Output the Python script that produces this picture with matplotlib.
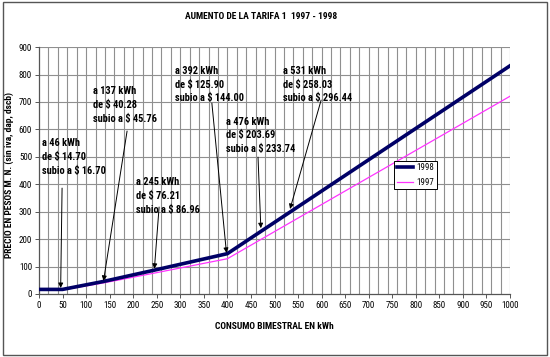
import matplotlib
matplotlib.use("Agg")
import matplotlib.pyplot as plt
from matplotlib.font_manager import fontManager, FontProperties
from matplotlib.patches import Rectangle

_files = {f.fname.split('/')[-1]: f.fname for f in fontManager.ttflist}


def pick(cands, default_weight):
    for c in cands:
        if c in _files:
            return FontProperties(fname=_files[c])
    return FontProperties(family=['Liberation Sans', 'DejaVu Sans'], weight=default_weight)


FB = pick(['LiberationSansNarrow-Bold.ttf', 'RobotoCondensed-Bold.ttf', 'ArialNarrowBold.ttf',
           'BarlowSemiCondensed-Bold.ttf', 'DejaVuSansCondensed-Bold.ttf'], 'bold')
FR = pick(['LiberationSansNarrow-Regular.ttf', 'RobotoCondensed-Regular.ttf', 'ArialNarrow.ttf',
           'BarlowSemiCondensed-Regular.ttf', 'DejaVuSansCondensed.ttf'], 'normal')

# Data (kWh, pesos)
kwh = [0, 50, 137, 245, 392, 400, 476, 531, 1000]
price_1998 = [16.70, 16.70, 45.76, 86.96, 144.00, 147.1, 233.74, 296.44, 832]
price_1997 = [14.70, 14.70, 40.28, 76.21, 125.90, 128.6, 203.69, 258.03, 721]

title = "AUMENTO DE LA TARIFA 1  1997 - 1998"
xlabel = "CONSUMO BIMESTRAL EN kWh"
ylabel = "PRECIO EN PESOS M. N. (sin iva, dap, dscb)"

notes = [
    "a 46 kWh\nde $ 14.70\nsubio a $ 16.70",
    "a 137 kWh\nde $ 40.28\nsubio a $ 45.76",
    "a 245 kWh\nde $ 76.21\nsubio a $ 86.96",
    "a 392 kWh\nde $ 125.90\nsubio a $ 144.00",
    "a 476 kWh\nde $ 203.69\nsubio a $ 233.74",
    "a 531 kWh\nde $ 258.03\nsubio a $ 296.44",
]
note_text_pos = [(6, 567), (115, 757), (205, 427), (288, 832), (398, 647), (518, 832)]
arrow_tail = [(49, 386), (187, 594), (255, 317), (367, 696), (465, 499), (599, 707)]
arrow_tip = [(46, 22), (137, 48), (245, 92), (398, 150), (471, 240), (533, 310)]

fig = plt.figure(figsize=(5.5, 3.57), dpi=100)
fig.patches.append(Rectangle((0.005, 0.006), 0.99, 0.988, transform=fig.transFigure,
                             fill=False, edgecolor='#555555', linewidth=1.0))
ax = fig.add_axes([0.0709, 0.1765, 0.8564, 0.6915])

ax.set_xlim(0, 1000)
ax.set_ylim(0, 900)
ax.set_xticks(range(0, 1001, 50))
ax.set_yticks(range(0, 901, 100))
for x in range(20, 1001, 20):
    ax.axvline(x, color='#8f8f8f', linewidth=0.8, zorder=0)
for y in range(100, 901, 100):
    ax.axhline(y, color='#8f8f8f', linewidth=0.8, zorder=0)

ax.plot(kwh, price_1997, color='#ff33ff', linewidth=0.9, label='1997', zorder=3)
ax.plot(kwh, price_1998, color='#000066', linewidth=2.6, label='1998', zorder=4)

for txt, tp, tail, tip in zip(notes, note_text_pos, arrow_tail, arrow_tip):
    ax.text(tp[0], tp[1], txt, fontproperties=FB, fontsize=7.5, va='top', ha='left',
            linespacing=1.45, zorder=5)
    ax.annotate('', xy=tip, xytext=tail,
                arrowprops=dict(arrowstyle='-|>', color='black', lw=0.7,
                                mutation_scale=7, shrinkA=0, shrinkB=0), zorder=5)

for s in ['top', 'right']:
    ax.spines[s].set_visible(False)
for s in ['left', 'bottom']:
    ax.spines[s].set_color('#555555')
    ax.spines[s].set_linewidth(0.9)
ax.tick_params(length=3, width=0.7, color='#555555', pad=2)
for lab in ax.get_xticklabels() + ax.get_yticklabels():
    lab.set_fontproperties(FR)
    lab.set_fontsize(6.5)

handles, labels = ax.get_legend_handles_labels()
lp = FR.copy()
lp.set_size(6.5)
leg = ax.legend(handles[::-1], labels[::-1], loc='lower left', bbox_to_anchor=(0.745, 0.405),
                prop=lp, frameon=True, fancybox=False, edgecolor='black', framealpha=1,
                handlelength=1.8, borderpad=0.3, labelspacing=0.6, handletextpad=0.3)
leg.get_frame().set_linewidth(0.7)

fig.text(0.474, 0.955, title, fontproperties=FB, fontsize=6.8, ha='center', va='center')
ax.set_xlabel(xlabel, fontproperties=FB, fontsize=6.8, labelpad=9)
ax.set_ylabel(ylabel, fontproperties=FB, fontsize=6.8)
ax.yaxis.set_label_coords(-0.053, 0.48)

fig.savefig('out.png', dpi=100)
